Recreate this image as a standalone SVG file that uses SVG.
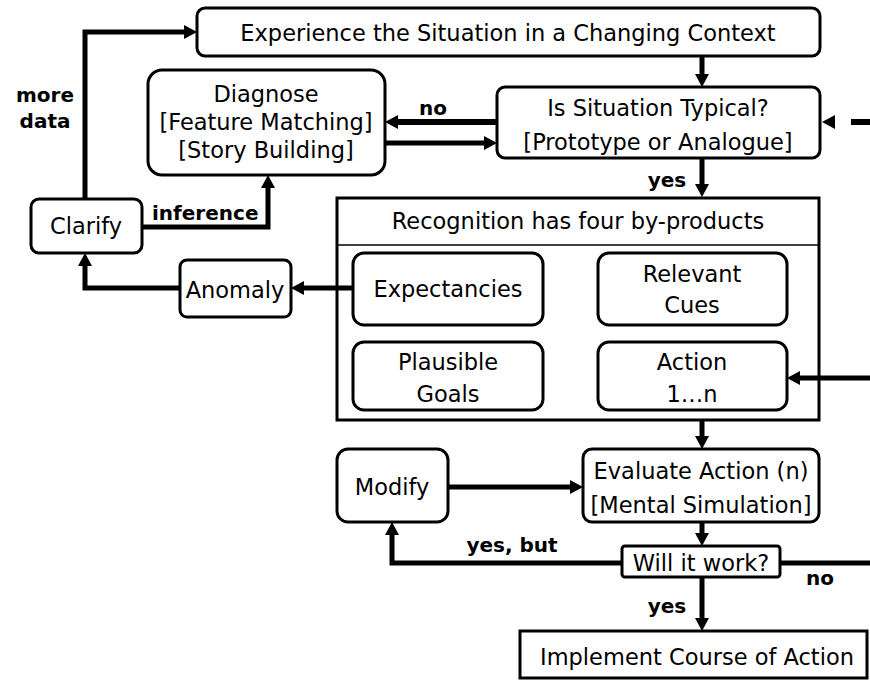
<svg xmlns="http://www.w3.org/2000/svg" width="870" height="681" viewBox="0 0 870 681">
<style>
.box{fill:#fff;stroke:#000;stroke-width:3}
.t{font-family:"DejaVu Sans",Verdana,sans-serif;font-size:22.5px;fill:#000;text-anchor:middle}
.b{font-family:"DejaVu Sans",Verdana,sans-serif;font-size:20px;font-weight:bold;fill:#000;text-anchor:middle}
.c{fill:none;stroke:#000;stroke-width:5;stroke-linejoin:miter}
</style>
<defs>
<marker id="ah" markerUnits="userSpaceOnUse" markerWidth="14" markerHeight="14" refX="1" refY="7" orient="auto">
<path d="M0,0 L13,7 L0,14 z" fill="#000"/>
</marker>
</defs>
<rect width="870" height="681" fill="#fff"/>
<g id="experience">
<rect class="box" x="197" y="8" width="623" height="48" rx="8"/>
<text class="t" x="508" y="41">Experience the Situation in a Changing Context</text>
</g>
<g id="diagnose">
<rect class="box" x="148" y="70" width="237" height="105" rx="14"/>
<text class="t" x="266" y="102">Diagnose</text>
<text class="t" x="266" y="130">[Feature Matching]</text>
<text class="t" x="266" y="158">[Story Building]</text>
</g>
<g id="typical">
<rect class="box" x="497" y="87" width="323" height="71" rx="8"/>
<text class="t" x="658" y="116">Is Situation Typical?</text>
<text class="t" x="658" y="150">[Prototype or Analogue]</text>
</g>
<g id="clarify">
<rect class="box" x="31" y="199" width="111" height="54" rx="8"/>
<text class="t" x="86" y="234">Clarify</text>
</g>
<g id="anomaly">
<rect class="box" x="180" y="260" width="111" height="57" rx="7"/>
<text class="t" x="235" y="298">Anomaly</text>
</g>
<g id="recognition">
<rect x="337" y="198" width="482" height="222" fill="#fff" stroke="#000" stroke-width="3"/>
<line x1="337" y1="245" x2="819" y2="245" stroke="#000" stroke-width="1.5"/>
<text class="t" x="578" y="229">Recognition has four by-products</text>
</g>
<g id="expectancies">
<rect class="box" x="353" y="253" width="190" height="72" rx="11"/>
<text class="t" x="448" y="297">Expectancies</text>
</g>
<g id="cues">
<rect class="box" x="598" y="253" width="189" height="72" rx="11"/>
<text class="t" x="692" y="282">Relevant</text>
<text class="t" x="692" y="313">Cues</text>
</g>
<g id="goals">
<rect class="box" x="353" y="342" width="190" height="68" rx="11"/>
<text class="t" x="448" y="370">Plausible</text>
<text class="t" x="448" y="402">Goals</text>
</g>
<g id="action">
<rect class="box" x="598" y="342" width="189" height="68" rx="11"/>
<text class="t" x="692" y="370">Action</text>
<text class="t" x="692" y="402">1…n</text>
</g>
<g id="modify">
<rect class="box" x="337" y="449" width="111" height="73" rx="11"/>
<text class="t" x="392" y="495">Modify</text>
</g>
<g id="evaluate">
<rect class="box" x="583" y="449" width="236" height="73" rx="9"/>
<text class="t" x="701" y="479">Evaluate Action (n)</text>
<text class="t" x="701" y="513">[Mental Simulation]</text>
</g>
<g id="work">
<rect class="box" x="622" y="546" width="158" height="31" rx="3"/>
<text class="t" x="701" y="571">Will it work?</text>
</g>
<g id="implement">
<rect x="520" y="631" width="347" height="47" fill="#fff" stroke="#000" stroke-width="3"/>
<text class="t" x="697" y="665">Implement Course of Action</text>
</g>
<g id="connectors">
<path class="c" d="M85,199 V32 H185" marker-end="url(#ah)"/>
<path class="c" d="M142,227 H268 V187" marker-end="url(#ah)"/>
<path class="c" d="M180,288 H85 V265" marker-end="url(#ah)"/>
<path class="c" d="M353,288 H303" marker-end="url(#ah)"/>
<path class="c" d="M702,56 V75" marker-end="url(#ah)"/>
<path class="c" style="stroke-width:6" d="M497,122 H397" marker-end="url(#ah)"/>
<path class="c" d="M385,143 H485" marker-end="url(#ah)"/>
<path class="c" style="stroke-width:6;stroke-dasharray:19 16" d="M870,122 H834" marker-end="url(#ah)"/>
<path class="c" d="M702,158 V185" marker-end="url(#ah)"/>
<path class="c" d="M702,420 V437" marker-end="url(#ah)"/>
<path class="c" d="M870,378 H799" marker-end="url(#ah)"/>
<path class="c" d="M448,487 H571" marker-end="url(#ah)"/>
<path class="c" d="M702,522 V534" marker-end="url(#ah)"/>
<path class="c" d="M622,563 H392 V534" marker-end="url(#ah)"/>
<path class="c" d="M780,563 H870"/>
<path class="c" d="M702,577 V619" marker-end="url(#ah)"/>
</g>
<g id="labels">
<text class="b" x="45" y="102">more</text>
<text class="b" x="45" y="128">data</text>
<text class="b" x="152" y="220" style="text-anchor:start">inference</text>
<text class="b" x="433" y="115">no</text>
<text class="b" x="667" y="187">yes</text>
<text class="b" x="512" y="552">yes, but</text>
<text class="b" x="820" y="585">no</text>
<text class="b" x="667" y="613">yes</text>
</g>
</svg>
